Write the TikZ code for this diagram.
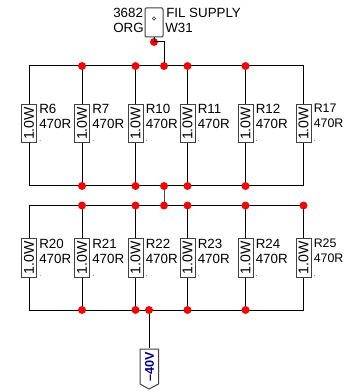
\documentclass[tikz,border=0pt]{standalone}
\usepackage{fontspec}
\setmainfont{Liberation Sans}
\usetikzlibrary{calc}
\definecolor{dotred}{HTML}{F00808}
\definecolor{tagblue}{HTML}{000080}
\newcommand{\labfont}{\fontsize{10pt}{11pt}\selectfont}
\newcommand{\edgefont}{\fontsize{9.3pt}{11pt}\selectfont}
\newcommand{\wattfont}{\fontsize{10.6pt}{11pt}\selectfont}
\tikzset{
	wire/.style={black,line width=0.75pt},
	junction/.style={circle,fill=dotred,draw=none,minimum size=6pt,inner sep=0pt},
	resbox/.style={draw=black!75,fill=white,line width=0.75pt,minimum width=11.25pt,minimum height=28.8pt,inner sep=0pt},
	reslabel/.style={align=left,anchor=north west,inner sep=0pt},
	plainlabel/.style={font=\labfont,anchor=base west,inner sep=0pt},
	tinydot/.style={font=\fontsize{5pt}{5pt}\selectfont,anchor=base west,inner sep=0pt},
}
\begin{document}
\begin{tikzpicture}[x=0.75pt,y=-0.75pt]
	\useasboundingbox (0,0) rectangle (343,391);

	%rails
	\def\topA{66}
	\def\botA{186}
	\def\topB{205.5}
	\def\botB{310}

	%upper bank
	\foreach \name/\val/\x/\fnt in {R6/470R/29/\labfont,R7/470R/82/\labfont,R10/470R/135.5/\labfont,R11/470R/187.5/\labfont,R12/470R/245.5/\labfont,R17/470R/303.5/\edgefont}{
		\node[resbox] (\name) at (\x,123.5) {\rotatebox{90}{\wattfont 1.0W}};
		\coordinate (\name top) at (\x,\topA);
		\coordinate (\name bot) at (\x,\botA);
		\draw[wire] (\name top) -- (\name);
		\draw[wire] (\name) -- (\name bot);
		\node[reslabel,font=\fnt] (\name lab) at (\x+10,104) {\name\\\val};
		\node[tinydot] (\name dot) at (\x+10,142) {.};
	}
	\draw[wire] (R6top) -- (R17top);
	\draw[wire] (R6bot) -- (R17bot);

	%lower bank
	\foreach \name/\val/\x/\fnt in {R20/470R/29/\labfont,R21/470R/82/\labfont,R22/470R/135.5/\labfont,R23/470R/187.5/\labfont,R24/470R/245.5/\labfont,R25/470R/303.5/\edgefont}{
		\node[resbox] (\name) at (\x,258) {\rotatebox{90}{\wattfont 1.0W}};
		\coordinate (\name top) at (\x,\topB);
		\coordinate (\name bot) at (\x,\botB);
		\draw[wire] (\name top) -- (\name);
		\draw[wire] (\name) -- (\name bot);
		\node[reslabel,font=\fnt] (\name lab) at (\x+10,239) {\name\\\val};
		\node[tinydot] (\name dot) at (\x+10,276) {.};
	}
	\draw[wire] (R20top) -- (R25top);
	\draw[wire] (R20bot) -- (R25bot);

	% link between banks
	\coordinate (linkA) at (164,\botA);
	\coordinate (linkB) at (164,\topB);
	\draw[wire,black!70] (linkA) -- (linkB);

	%supply connector
	\node[draw=black!75,fill=white,line width=0.75pt,rounded corners=0.8pt,minimum width=13.5pt,minimum height=21.75pt,inner sep=0pt] (conn) at (154,22.5) {};
	\node[circle,draw=black!70,line width=0.5pt,minimum size=2.4pt,inner sep=0pt] (pin) at (154,18.5) {};
	\node[junction] (feed) at (154,42) {};
	\coordinate (railtap) at (164,\topA);
	\draw[wire] (conn.south) -- (feed.center) -| (railtap);
	\node[plainlabel] (partno) at (113,18) {3682};
	\node[plainlabel] (org) at (113,33) {ORG};
	\node[plainlabel] (fil) at (166,18) {FIL SUPPLY};
	\node[plainlabel] (wnum) at (165,33) {W31};

	%output tag
	\node[junction] (out) at (149,\botB) {};
	\node[draw=none,minimum width=0pt,inner sep=0pt] (tagtop) at (149,349) {};
	\draw[wire] (out) -- (tagtop);
	\draw[black!75,fill=white,line width=0.75pt] (140,349) -- (158.5,349) -- (158.5,384) -- (149,389) -- (140,384) -- cycle;
	\node[font=\bfseries\fontsize{9.5pt}{9.5pt}\selectfont,text=tagblue,rotate=90,inner sep=0pt] (neg) at (149.5,367) {--40V};

	%junctions
	\foreach \x in {82,135.5,164,187.5,245.5}{
		\node[junction] at (\x,\topA) {};
		\node[junction] at (\x,\botA) {};
	}
	\foreach \x in {82,135.5,164,187.5,245.5,303.5}{
		\node[junction] at (\x,\topB) {};
	}
	\foreach \x in {82,135.5,187.5,245.5}{
		\node[junction] at (\x,\botB) {};
	}
\end{tikzpicture}
\end{document}
